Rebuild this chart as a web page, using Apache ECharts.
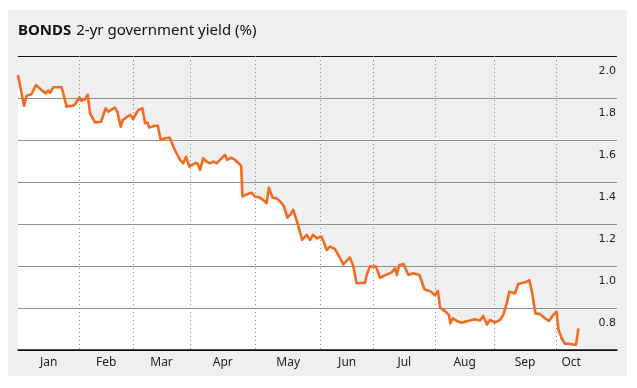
<!DOCTYPE html>
<html><head><meta charset="utf-8">
<script src="https://cdn.jsdelivr.net/npm/echarts@6/dist/echarts.min.js"></script>
<style>
html,body{margin:0;padding:0;background:#fff;}
#card{position:absolute;left:8px;top:10px;width:619px;height:366px;background:#efefef;}
#fill,#chart{position:absolute;left:0;top:0;width:637px;height:388px;}
</style></head><body>
<div id="card"></div><div id="fill"></div><div id="chart"></div>
<script>
// x position in trading days since 2 Jan
const tradingDay = [0,2.1,3.0,4.7,6.2,7.9,9.6,10.5,11.1,12.2,15.1,16.8,19.1,20.0,21.2,22.0,23.2,24.1,24.9,26.6,28.7,30.3,31.2,33.5,
34.3,35.5,36.2,37.8,38.9,39.8,41.6,43.0,43.9,44.7,45.4,47.3,48.3,49.3,50.8,52.5,53.7,54.8,56.0,57.1,58.1,59.2,61.2,62.0,62.9,64.0,65.2,
66.3,67.5,68.7,69.8,71.5,72.3,73.6,75.0,77.1,77.6,79.0,80.8,81.9,83.4,84.8,85.9,86.7,88.0,89.4,90.9,92.0,93.1,94.0,95.1,96.5,97.1,98.2,
99.8,100.9,102.0,103.2,104.9,106.7,107.8,109.5,111.3,112.4,114.7,115.9,117.0,119.9,120.5,121.6,123.7,125.1,126.5,127.6,129.1,130.3,130.9,131.8,133.2,134.9,136.7,138.7,140.5,142.7,
144.1,145.1,145.9,147.5,148.9,149.4,150.3,151.7,153.2,155.5,157.9,159.6,160.8,162.1,163.1,164.8,166.6,167.7,168.9,169.8,171.7,172.9,174.6,175.8,176.7,177.6,178.8,180.4,182.1,183.5,185.0,186.1,186.8,187.9,189.0,190.7,192.8,193.7];
const yieldPct = [1.910,1.762,1.810,1.819,1.862,1.841,1.822,1.835,1.825,1.851,1.851,1.759,1.763,1.775,1.803,1.787,1.794,1.816,1.727,1.684,1.687,1.751,1.735,1.754,
1.735,1.663,1.695,1.711,1.719,1.700,1.743,1.751,1.680,1.684,1.659,1.668,1.668,1.600,1.608,1.611,1.568,1.537,1.505,1.489,1.520,1.473,1.489,1.489,1.457,1.513,1.497,
1.489,1.497,1.489,1.505,1.529,1.505,1.516,1.505,1.478,1.330,1.341,1.349,1.330,1.327,1.314,1.299,1.373,1.325,1.322,1.303,1.282,1.230,1.243,1.267,1.208,1.203,1.124,
1.148,1.124,1.148,1.132,1.140,1.076,1.092,1.081,1.037,1.008,1.041,0.997,0.918,0.920,0.957,0.997,0.997,0.944,0.954,0.960,0.970,0.989,0.957,1.005,1.010,0.957,0.965,0.957,0.888,0.878,
0.860,0.882,0.800,0.786,0.767,0.727,0.751,0.738,0.730,0.738,0.746,0.740,0.762,0.721,0.743,0.730,0.743,0.767,0.822,0.878,0.869,0.914,0.920,0.925,0.933,0.878,0.774,0.771,0.751,0.738,0.767,0.782,0.695,0.656,0.629,0.629,0.624,0.703];
const monthStarts = [0,21.2,39.8,59.4,82.1,104.6,122.9,144.1,164.6,185.9];
const monthEnd = 196.4;
const monthNames = ['Jan','Feb','Mar','Apr','May','Jun','Jul','Aug','Sep','Oct'];
const yMin = 0.6, yMax = 2.0, yStep = 0.2, xMax = 207;

const monthMids = monthStarts.map((s,i)=> (s + (i+1<monthStarts.length ? monthStarts[i+1] : monthEnd))/2);
const pts = tradingDay.map((t,i)=>[t, yieldPct[i]]);

// white area under the line: separate layer, split into overlapping pieces
const step = 20, pieces = [];
for (let k = 0; k < pts.length - 1; k += step) pieces.push(pts.slice(k, Math.min(pts.length, k + step + 2)));

const grid = {left:18,right:20,top:56,bottom:38};

const fill = echarts.init(document.getElementById('fill'), null, {renderer:'canvas'});
fill.setOption({
  animation:false,
  grid:grid,
  xAxis:{type:'value', min:0, max:xMax, z:3, axisTick:{show:false}, axisLabel:{show:false}, axisLine:{show:false}, splitLine:{show:false}},
  yAxis:{type:'value', position:'right', min:yMin, max:yMax, interval:yStep, z:3, axisLabel:{show:false}, axisLine:{show:false}, splitLine:{show:false}},
  series: pieces.map(p => ({type:'line', data:p, symbol:'none', z:1, lineStyle:{opacity:0}, areaStyle:{color:'#ffffff', opacity:1}, silent:true}))
});

const chart = echarts.init(document.getElementById('chart'), null, {renderer:'canvas'});
chart.setOption({
  animation:false,
  title:{
    left:13, top:17,
    text:'{b|BONDS} {n|2-yr government yield (%)}',
    textStyle:{fontWeight:'normal',rich:{
      b:{fontFamily:'Noto Sans',fontWeight:'bold',fontSize:15,color:'#111'},
      n:{fontFamily:'Noto Sans',fontWeight:'normal',fontSize:15,color:'#111'}
    }}
  },
  grid:grid,
  xAxis:{
    type:'value', min:0, max:xMax, z:3,
    axisLine:{show:true,lineStyle:{color:'#111',width:1.5}},
    axisTick:{show:false,customValues:monthStarts.slice(1)},
    splitLine:{show:true,lineStyle:{color:'#8a8a8a',width:1,type:[1,3]}},
    axisLabel:{customValues:monthMids,margin:7,fontFamily:'Noto Sans',fontSize:12,color:'#222',
      formatter:v=>{const i=monthMids.findIndex(m=>Math.abs(m-v)<0.01);return i>=0?monthNames[i]:'';}}
  },
  yAxis:{
    type:'value', position:'right', min:yMin, max:yMax, interval:yStep, z:3,
    axisLine:{show:false}, axisTick:{show:false},
    splitLine:{show:true,lineStyle:{color:['#111','#8f8f8f','#8f8f8f','#8f8f8f','#8f8f8f','#8f8f8f','#8f8f8f','#111'],width:1}},
    axisLabel:{inside:true,margin:1,fontFamily:'DejaVu Sans',fontSize:11,color:'#222',verticalAlign:'top',padding:[10,0,0,0],
      formatter:v=> v < yMin+0.05 ? '' : v.toFixed(1)}
  },
  series:[
    {type:'line',data:pts,symbol:'none',z:5,lineStyle:{color:'#f26b21',width:2.6,join:'round'}}
  ]
});
</script>
</body></html>
